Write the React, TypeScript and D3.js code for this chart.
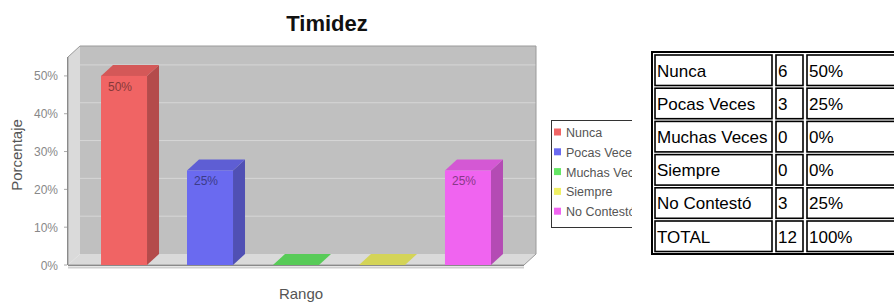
import React from 'react';
import * as d3 from 'd3';

const categories = ['Nunca', 'Pocas Veces', 'Muchas Veces', 'Siempre', 'No Contestó'];
const percentages = [50, 25, 0, 0, 25];
const counts = [6, 3, 0, 0, 3];
const barColors = ['#f06464', '#6a6af0', '#64e664', '#f0f064', '#f064f0'];
const yTicks = [0, 10, 20, 30, 40, 50];
const totalLabel = 'TOTAL';
const totalCount = 12;
const totalPercent = 100;
const chartTitle = 'Timidez';
const yAxisTitle = 'Porcentaje';
const xAxisTitle = 'Rango';

const W = 894;
const H = 303;
const x0 = 68, x1 = 524, yTop = 57, yBase = 265;
const dx = 12, dy = 11;

export default function App() {
  const xs = d3.scaleBand<string>().domain(categories).range([x0, x1]).paddingInner(0.465).paddingOuter(0.384);
  const ys = d3.scaleLinear().domain([0, 55]).range([yBase, yTop]);
  const bw = xs.bandwidth();
  const chartFont = '"Liberation Sans", Arial, sans-serif';

  const outline = `M${x0},${yBase}L${x0},${yTop}L${x0 + dx},${yTop - dy}L${x1 + dx},${yTop - dy}L${x1 + dx},${yBase - dy}L${x1},${yBase}Z`;

  const rowY = (i: number) => 55 + i * 33.2;
  const rowH = 30.5;
  const colX = [655, 776, 807];
  const colW = [117, 27, 110];
  const tableRows = categories.map((c, i) => [c, String(counts[i]), `${percentages[i]}%`]);
  tableRows.push([totalLabel, String(totalCount), `${totalPercent}%`]);

  return (
    <svg width={W} height={H} style={{ position: 'absolute', left: 0, top: 0, background: '#fff' }}>
      <defs>
        <clipPath id="chartClip"><rect x={0} y={0} width={632} height={H} /></clipPath>
      </defs>
      <g clipPath="url(#chartClip)" fontFamily={chartFont}>
        <text x={327} y={31} textAnchor="middle" fontSize={22} fontWeight="bold" fill="#111">{chartTitle}</text>
        {/* walls */}
        <rect x={x0 + dx} y={yTop - dy} width={x1 - x0} height={yBase - yTop} fill="#c0c0c0" />
        <polygon points={`${x0},${yTop} ${x0 + dx},${yTop - dy} ${x0 + dx},${yBase - dy} ${x0},${yBase}`} fill="#dadada" />
        <polygon points={`${x0},${yBase} ${x0 + dx},${yBase - dy} ${x1 + dx},${yBase - dy} ${x1},${yBase}`} fill="#dadada" />
        {yTicks.filter(t => t > 0).map(t => (
          <path key={t} d={`M${x0 + dx},${ys(t) - dy}L${x1 + dx},${ys(t) - dy}`} stroke="#d6d6d6" strokeWidth={1} fill="none" />
        ))}
        <path d={outline} fill="none" stroke="#9a9a9a" strokeWidth={1} />
        {/* bars */}
        {categories.map((c, i) => {
          const bx = xs(c)!;
          const yt = ys(percentages[i]);
          const col = d3.color(barColors[i])!;
          const topC = col.darker(0.35).formatHex();
          const sideC = col.darker(0.8).formatHex();
          return (
            <g key={c}>
              <polygon points={`${bx + bw},${yt} ${bx + bw + dx},${yt - dy} ${bx + bw + dx},${yBase - dy} ${bx + bw},${yBase}`} fill={sideC} />
              <polygon points={`${bx},${yt} ${bx + dx},${yt - dy} ${bx + bw + dx},${yt - dy} ${bx + bw},${yt}`} fill={topC} />
              <rect x={bx} y={yt} width={bw} height={yBase - yt} fill={barColors[i]} />
              {percentages[i] > 0 && (
                <text x={bx + 7} y={yt + 15} fontSize={12} fill={col.darker(1.6).formatHex()}>{`${percentages[i]}%`}</text>
              )}
            </g>
          );
        })}
        {/* axes */}
        <line x1={x0 - 0.5} y1={yTop} x2={x0 - 0.5} y2={yBase} stroke="#8a8a8a" />
        <line x1={x0} y1={yBase + 0.5} x2={x1} y2={yBase + 0.5} stroke="#8a8a8a" />
        <line x1={x0} y1={yBase + 2.5} x2={x1} y2={yBase + 2.5} stroke="#d0d0d0" strokeWidth={2} />
        {yTicks.map(t => (
          <g key={t}>
            <line x1={x0 - 4} x2={x0 - 1} y1={ys(t)} y2={ys(t)} stroke="#aaa" />
            <text x={58} y={ys(t) + 4.5} textAnchor="end" fontSize={12} fill="#888">{`${t}%`}</text>
          </g>
        ))}
        <text transform={`translate(22,155) rotate(-90)`} textAnchor="middle" fontSize={15} fill="#555">{yAxisTitle}</text>
        <text x={301} y={299} textAnchor="middle" fontSize={15} fill="#555">{xAxisTitle}</text>
        {/* legend */}
        <rect x={551.5} y={120.5} width={120} height={107} fill="#fff" stroke="#333" />
        {categories.map((c, i) => (
          <g key={c}>
            <rect x={554} y={128.5 + i * 19.8} width={7} height={7} fill={barColors[i]} />
            <text x={566} y={137 + i * 19.8} fontSize={12.5} fill="#555">{c}</text>
          </g>
        ))}
      </g>
      {/* table */}
      <g fontFamily={chartFont}>
        <rect x={652} y={52} width={260} height={202} fill="none" stroke="#000" strokeWidth={2} />
        {tableRows.map((r, i) => (
          <g key={i}>
            {r.map((v, j) => (
              <g key={j}>
                <rect x={colX[j]} y={rowY(i)} width={colW[j]} height={rowH} fill="none" stroke="#000" strokeWidth={1.6} />
                <text x={colX[j] + 2} y={rowY(i) + 21.5} fontSize={17} fill="#000">{v}</text>
              </g>
            ))}
          </g>
        ))}
      </g>
    </svg>
  );
}
